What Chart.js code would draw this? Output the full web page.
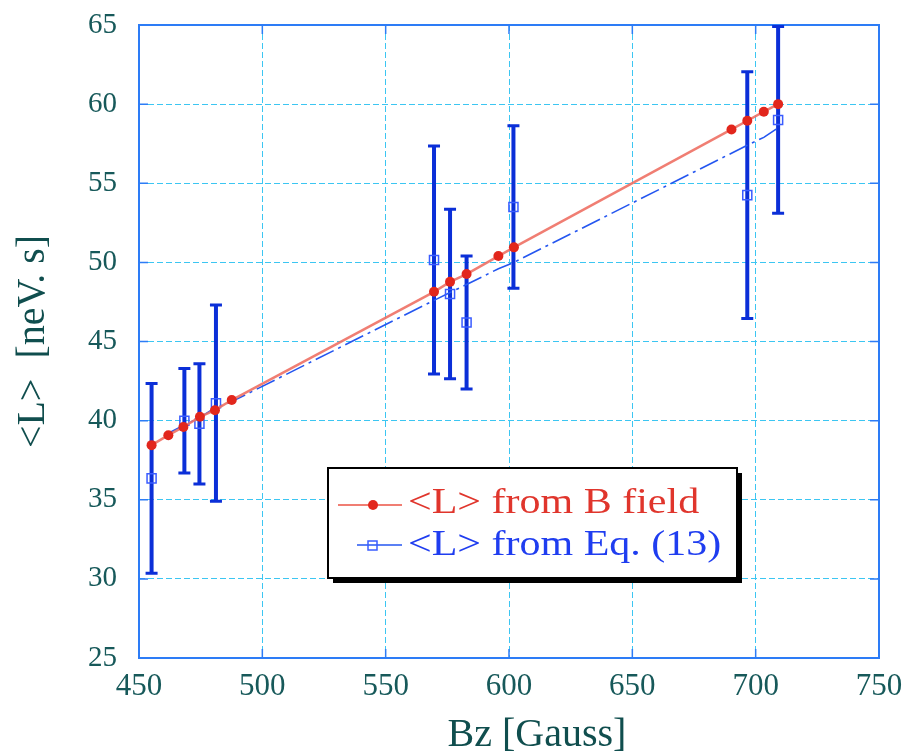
<!doctype html>
<html lang="en">
  <head>
    <meta charset="utf-8">
    <title>L vs Bz</title>
    <style>
      * {
        margin: 0;
        padding: 0;
      }
      body {
        background: #fff;
      }
      .chartBox {
        width: 902px;
        height: 755px;
      }
    </style>
  </head>
  <body>
    <div class="chartBox">
      <canvas id="myChart"></canvas>
    </div>
    <script src="https://cdn.jsdelivr.net/npm/chart.js/dist/chart.umd.min.js"></script>
    <script>
      // data
      const seriesNames = ['<L> from B field', '<L> from Eq. (13)'];

      const bFieldBz = [455.1, 461.9, 468.0, 474.7, 480.8, 487.6, 569.6, 576.1, 582.8, 595.7, 602.0, 690.2, 696.6, 703.3, 709.1];
      const bFieldL  = [38.45, 39.08, 39.6, 40.24, 40.66, 41.3, 48.14, 48.77, 49.26, 50.4, 50.95, 58.4, 58.95, 59.52, 60.0];

      const eqLineBz = [461.9, 468.0, 474.7, 480.8, 487.6, 569.6, 576.1, 582.8, 595.7, 602.0, 690.2, 696.6, 703.3, 709.1];
      const eqLineL  = [39.2, 39.7, 40.2, 40.8, 41.2, 47.6, 48.1, 48.6, 49.6, 50.0, 56.9, 57.4, 57.9, 58.5];

      const eqPointBz  = [455.1, 468.4, 474.5, 481.2, 569.6, 576.1, 582.8, 601.8, 696.6, 709.1];
      const eqPointL   = [36.35, 39.99, 39.8, 41.1, 50.15, 48.0, 46.2, 53.5, 54.25, 59.0];
      const eqPointErr = [6.0, 3.3, 3.8, 6.2, 7.2, 5.35, 4.2, 5.14, 7.8, 5.9];

      const xTickValues = [450, 500, 550, 600, 650, 700, 750];
      const yTickValues = [25, 30, 35, 40, 45, 50, 55, 60, 65];

      const xTitle = 'Bz [Gauss]';
      const yTitle = '<L>  [neV. s]';

      const serif = '"Liberation Serif", "DejaVu Serif", serif';
      const frameColor = '#2d7cf6';
      const textColor = '#17595a';
      const gridColor = '#3cc6f2';
      const redLine = 'rgba(238, 112, 100, 0.9)';
      const redDot = '#e2261c';
      const blueLine = '#2456f0';
      const blueBar = '#0b2fd8';

      const toPoints = (xs, ys) => xs.map((v, i) => ({ x: v, y: ys[i] }));

      // keep the plot box where the picture has it
      const noScalePadding = scale => {
        scale.paddingTop = 0;
        scale.paddingBottom = 0;
        scale.paddingLeft = 0;
        scale.paddingRight = 0;
      };

      // frame with inward ticks
      const frame = {
        id: 'frame',
        beforeDatasetsDraw(chart) {
          const { ctx, chartArea: { left, right, top, bottom }, scales: { x, y } } = chart;
          ctx.save();
          ctx.strokeStyle = frameColor;
          ctx.lineWidth = 2;
          ctx.strokeRect(left, top, right - left, bottom - top);
          ctx.lineWidth = 1.5;
          ctx.beginPath();
          xTickValues.forEach(v => {
            const px = x.getPixelForValue(v);
            ctx.moveTo(px, bottom); ctx.lineTo(px, bottom - 9);
            ctx.moveTo(px, top); ctx.lineTo(px, top + 9);
          });
          yTickValues.forEach(v => {
            const py = y.getPixelForValue(v);
            ctx.moveTo(left, py); ctx.lineTo(left + 9, py);
            ctx.moveTo(right, py); ctx.lineTo(right - 9, py);
          });
          ctx.stroke();
          ctx.restore();
        }
      };

      const errorBars = {
        id: 'errorBars',
        beforeDatasetsDraw(chart) {
          const { ctx, scales: { x, y } } = chart;
          ctx.save();
          ctx.strokeStyle = blueBar;
          eqPointBz.forEach((bz, i) => {
            const px = x.getPixelForValue(bz);
            const hi = y.getPixelForValue(eqPointL[i] + eqPointErr[i]);
            const lo = y.getPixelForValue(eqPointL[i] - eqPointErr[i]);
            ctx.lineWidth = 4;
            ctx.beginPath();
            ctx.moveTo(px, hi); ctx.lineTo(px, lo);
            ctx.stroke();
            ctx.lineWidth = 3;
            ctx.beginPath();
            ctx.moveTo(px - 6, hi); ctx.lineTo(px + 6, hi);
            ctx.moveTo(px - 6, lo); ctx.lineTo(px + 6, lo);
            ctx.stroke();
          });
          ctx.restore();
        }
      };

      const legendBox = {
        id: 'legendBox',
        afterDatasetsDraw(chart) {
          const { ctx } = chart;
          const bx = 328, by = 468, bw = 409, bh = 110;
          ctx.save();
          ctx.fillStyle = '#000';
          ctx.fillRect(bx + 5, by + 5, bw, bh);
          ctx.fillStyle = '#fff';
          ctx.fillRect(bx, by, bw, bh);
          ctx.strokeStyle = '#000';
          ctx.lineWidth = 2;
          ctx.strokeRect(bx, by, bw, bh);

          // row 1
          ctx.strokeStyle = redLine;
          ctx.lineWidth = 2;
          ctx.beginPath();
          ctx.moveTo(338, 505); ctx.lineTo(402, 505);
          ctx.stroke();
          ctx.fillStyle = redDot;
          ctx.beginPath();
          ctx.arc(373, 505, 5, 0, Math.PI * 2);
          ctx.fill();

          // row 2
          ctx.strokeStyle = blueLine;
          ctx.lineWidth = 1.6;
          ctx.beginPath();
          ctx.moveTo(357, 545); ctx.lineTo(402, 545);
          ctx.stroke();
          ctx.strokeStyle = '#3a5cff';
          ctx.lineWidth = 1.5;
          ctx.strokeRect(368, 541, 9, 9);

          ctx.font = '35px ' + serif;
          ctx.textBaseline = 'middle';
          ctx.textAlign = 'left';
          const colors = ['#e0352c', '#1f3df0'];
          [504, 546].forEach((ty, i) => {
            ctx.save();
            ctx.translate(408, ty);
            ctx.scale(1.2, 1);
            ctx.fillStyle = colors[i];
            ctx.fillText(seriesNames[i], 0, 0);
            ctx.restore();
          });
          ctx.restore();
        }
      };

      const xAxisTitle = {
        id: 'xAxisTitle',
        afterDraw(chart) {
          const { ctx } = chart;
          ctx.save();
          ctx.font = '40px ' + serif;
          ctx.fillStyle = '#104e4e';
          ctx.textAlign = 'center';
          ctx.textBaseline = 'middle';
          ctx.fillText(xTitle, 537, 735);
          ctx.restore();
        }
      };

      const config = {
        type: 'scatter',
        data: {
          datasets: [
            {
              label: seriesNames[0],
              data: toPoints(bFieldBz, bFieldL),
              showLine: true,
              borderColor: redLine,
              borderWidth: 2.5,
              pointRadius: 5,
              pointBackgroundColor: redDot,
              pointBorderColor: redDot,
              pointBorderWidth: 0,
              order: 0
            },
            {
              label: seriesNames[1] + ' (points)',
              data: toPoints(eqPointBz, eqPointL),
              showLine: false,
              pointStyle: 'rect',
              pointRadius: 6.4,
              pointBackgroundColor: 'rgba(255,255,255,0)',
              pointBorderColor: '#3a5cff',
              pointBorderWidth: 1.5,
              order: 1
            },
            {
              label: seriesNames[1],
              data: toPoints(eqLineBz, eqLineL),
              showLine: true,
              borderColor: blueLine,
              borderWidth: 1.6,
              borderDash: [20, 5, 3, 5],
              pointRadius: 0,
              order: 2
            }
          ]
        },
        options: {
          responsive: true,
          maintainAspectRatio: false,
          animation: false,
          layout: {
            padding: { top: 25, right: 23, left: 0, bottom: 0 }
          },
          plugins: {
            legend: { display: false },
            tooltip: { enabled: false }
          },
          scales: {
            x: {
              type: 'linear',
              min: 450,
              max: 750,
              afterBuildTicks: scale => { scale.ticks = xTickValues.map(v => ({ value: v })); },
              afterFit: scale => { scale.height = 97; noScalePadding(scale); },
              grid: { color: gridColor, lineWidth: 1, drawTicks: false },
              border: { display: false, dash: [6, 3] },
              ticks: {
                padding: 10,
                color: textColor,
                font: { family: serif, size: 31 }
              }
            },
            y: {
              type: 'linear',
              min: 25,
              max: 65,
              afterBuildTicks: scale => { scale.ticks = yTickValues.map(v => ({ value: v })); },
              afterFit: scale => { scale.width = 139; noScalePadding(scale); },
              grid: { color: gridColor, lineWidth: 1, drawTicks: false },
              border: { display: false, dash: [6, 3] },
              ticks: {
                padding: 22,
                color: textColor,
                font: { family: serif, size: 29 }
              },
              title: {
                display: true,
                text: yTitle,
                color: '#104e4e',
                font: { family: serif, size: 40 },
                padding: { top: 9, bottom: 0 }
              }
            }
          }
        },
        plugins: [frame, errorBars, legendBox, xAxisTitle]
      };

      const myChart = new Chart(document.getElementById('myChart'), config);
    </script>
  </body>
</html>
